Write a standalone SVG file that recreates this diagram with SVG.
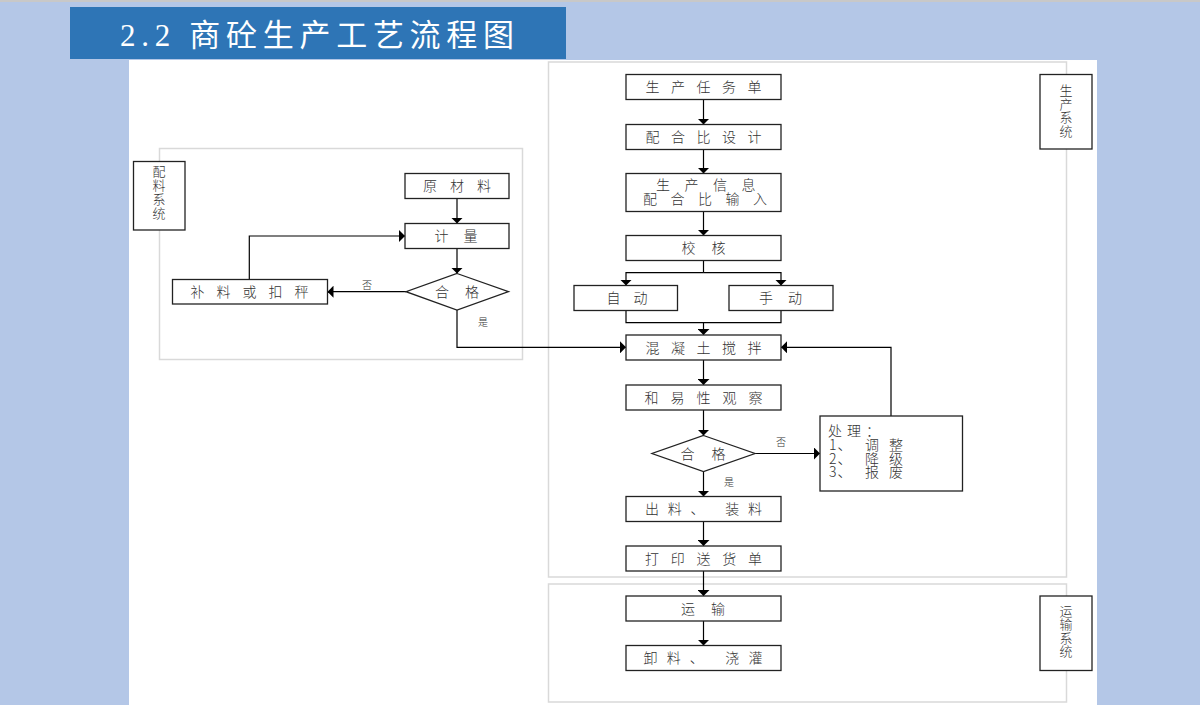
<svg xmlns="http://www.w3.org/2000/svg" width="1200" height="705" viewBox="0 0 1200 705">
<defs>
<marker id="ah" markerUnits="userSpaceOnUse" viewBox="0 0 6 12" markerWidth="6" markerHeight="12" refX="6" refY="6" orient="auto">
<path d="M0,0 L6,6 L0,12 z" fill="#000"/>
</marker>
<style>
.panel{fill:none;stroke:#D9D9D9;stroke-width:1.5}
.box{fill:#fff;stroke:#222;stroke-width:1.3}
.ln{fill:none;stroke:#000;stroke-width:1.2}
.ar{fill:none;stroke:#000;stroke-width:1.2;marker-end:url(#ah)}
.t{font-family:"Noto Sans CJK SC","Liberation Sans",sans-serif;font-size:14px;font-weight:300;fill:#333;text-anchor:middle}
.tl{font-family:"Noto Sans CJK SC","Liberation Sans",sans-serif;font-size:14px;font-weight:300;fill:#333}
.v{font-family:"Noto Sans CJK SC","Liberation Sans",sans-serif;font-size:13px;font-weight:300;fill:#333;writing-mode:vertical-rl;text-anchor:start}
.s{font-family:"Noto Sans CJK SC","Liberation Sans",sans-serif;font-size:10px;font-weight:300;fill:#333;text-anchor:middle}
</style>
</defs>
<rect x="0" y="0" width="1200" height="705" fill="#B4C7E7"/>
<rect x="0" y="0" width="1200" height="2" fill="#C8C8C8"/>
<rect x="129" y="60" width="968" height="645" fill="#fff"/>
<g id="title">
<rect x="70" y="7" width="496" height="52" fill="#2E75B6"/>
<text x="120" y="46" font-family="'Liberation Serif','Noto Sans CJK SC',serif" font-size="31" fill="#fff" textLength="394" lengthAdjust="spacing">2.2 商砼生产工艺流程图</text>
</g>
<g id="panels">
<rect class="panel" x="159.5" y="148.5" width="363" height="211"/>
<rect class="panel" x="548.5" y="62" width="518" height="515"/>
<rect class="panel" x="548.5" y="584" width="518" height="118"/>
</g>
<g id="connectors">
<line class="ar" x1="703.5" y1="99.5" x2="703.5" y2="124.5"/>
<line class="ar" x1="703.5" y1="149.5" x2="703.5" y2="173.5"/>
<line class="ar" x1="703.5" y1="211.5" x2="703.5" y2="235.5"/>
<line class="ln" x1="703.5" y1="260.5" x2="703.5" y2="272.7"/>
<polyline class="ar" points="703.5,272.7 626,272.7 626,285.5"/>
<polyline class="ar" points="703.5,272.7 781,272.7 781,285.5"/>
<polyline class="ln" points="626,310.5 626,322.7 781,322.7 781,310.5"/>
<line class="ar" x1="703.5" y1="322.7" x2="703.5" y2="335"/>
<line class="ar" x1="703.5" y1="360" x2="703.5" y2="385"/>
<line class="ar" x1="703.5" y1="410" x2="703.5" y2="435.5"/>
<line class="ar" x1="703.5" y1="471.5" x2="703.5" y2="496.5"/>
<line class="ar" x1="755" y1="453.5" x2="820" y2="453.5"/>
<polyline class="ar" points="891,416 891,347.3 781,347.3"/>
<line class="ar" x1="703.5" y1="521.5" x2="703.5" y2="546"/>
<line class="ar" x1="703.5" y1="571" x2="703.5" y2="596"/>
<line class="ar" x1="703.5" y1="621" x2="703.5" y2="645.5"/>
<line class="ar" x1="457" y1="198.5" x2="457" y2="223.5"/>
<line class="ar" x1="457" y1="248.5" x2="457" y2="273.5"/>
<line class="ar" x1="406" y1="291.7" x2="327.5" y2="291.7"/>
<polyline class="ar" points="249.3,279.5 249.3,236 405,236"/>
<polyline class="ar" points="457,310 457,347.3 626,347.3"/>
<text class="s" x="367" y="289">否</text>
<text class="s" x="483" y="326">是</text>
<text class="s" x="781" y="446">否</text>
<text class="s" x="729" y="486">是</text>
</g>
<g id="n-rwd"><rect class="box" x="626" y="74.5" width="155" height="25"/><text class="t" x="703.5" y="92" textLength="116" lengthAdjust="spacing">生产任务单</text></g>
<g id="n-phb"><rect class="box" x="626" y="124.5" width="155" height="25"/><text class="t" x="703.5" y="142" textLength="116" lengthAdjust="spacing">配合比设计</text></g>
<g id="n-xx"><rect class="box" x="626" y="173.5" width="155" height="38"/><text class="tl"><tspan x="656" y="190" letter-spacing="14.5">生产信息</tspan><tspan x="643" y="203.5" letter-spacing="13.5">配合比输入</tspan></text></g>
<g id="n-jh"><rect class="box" x="626" y="235.5" width="155" height="25"/><text class="t" x="703.5" y="253" textLength="44" lengthAdjust="spacing">校核</text></g>
<g id="n-zd"><rect class="box" x="574" y="285.5" width="103.5" height="25"/><text class="t" x="627" y="303" textLength="41" lengthAdjust="spacing">自动</text></g>
<g id="n-sd"><rect class="box" x="729" y="285.5" width="104" height="25"/><text class="t" x="780.5" y="303" textLength="43" lengthAdjust="spacing">手动</text></g>
<g id="n-jb"><rect class="box" x="626" y="335" width="155" height="25"/><text class="t" x="703.5" y="352.5" textLength="116" lengthAdjust="spacing">混凝土搅拌</text></g>
<g id="n-hyx"><rect class="box" x="626" y="385" width="155" height="25"/><text class="t" x="703.5" y="402.5" textLength="118" lengthAdjust="spacing">和易性观察</text></g>
<g id="n-hg2"><polygon class="box" points="703.5,435.5 755,453.5 703.5,471.5 652,453.5"/><text class="t" x="703" y="458.5" textLength="45" lengthAdjust="spacing">合格</text></g>
<g id="n-cl"><rect class="box" x="820" y="416" width="142.5" height="75"/>
<text class="tl"><tspan x="828" y="436" letter-spacing="5">处理：</tspan><tspan x="829" y="449.5" letter-spacing="1">1、</tspan><tspan x="865" y="449.5" letter-spacing="10">调整</tspan><tspan x="829" y="463.5" letter-spacing="1">2、</tspan><tspan x="865" y="463.5" letter-spacing="10">降级</tspan><tspan x="829" y="477" letter-spacing="1">3、</tspan><tspan x="865" y="477" letter-spacing="10">报废</tspan></text></g>
<g id="n-cz"><rect class="box" x="626" y="496.5" width="155" height="25"/><text class="t" x="703.5" y="514" textLength="117" lengthAdjust="spacing">出料、 装料</text></g>
<g id="n-dy"><rect class="box" x="626" y="546" width="155" height="25"/><text class="t" x="703.5" y="563.5" textLength="117" lengthAdjust="spacing">打印送货单</text></g>
<g id="n-ys"><rect class="box" x="626" y="596" width="155" height="25"/><text class="t" x="703" y="613.5" textLength="44" lengthAdjust="spacing">运输</text></g>
<g id="n-xl"><rect class="box" x="626" y="645.5" width="155" height="25"/><text class="t" x="703" y="663" textLength="119" lengthAdjust="spacing">卸料、 浇灌</text></g>
<g id="n-scxt"><rect class="box" x="1040" y="74.5" width="52" height="74.5"/>
<text class="v" x="1066" y="84" letter-spacing="0.5">生产系统</text></g>
<g id="n-ysxt"><rect class="box" x="1040" y="596" width="52" height="74.5"/>
<text class="v" x="1066" y="604.5" letter-spacing="0.5">运输系统</text></g>
<g id="n-plxt"><rect class="box" x="133.5" y="161.5" width="51.5" height="68.5"/>
<text class="v" x="159" y="165" font-size="14" letter-spacing="1">配料系统</text></g>
<g id="n-ycl"><rect class="box" x="405" y="173.5" width="104" height="25"/><text class="t" x="457" y="191" textLength="68" lengthAdjust="spacing">原材料</text></g>
<g id="n-jl"><rect class="box" x="405" y="223.5" width="104" height="25"/><text class="t" x="456" y="241" textLength="43" lengthAdjust="spacing">计量</text></g>
<g id="n-hg1"><polygon class="box" points="457,273.5 508.5,291.7 457,310 406,291.7"/><text class="t" x="457" y="296.5" textLength="44" lengthAdjust="spacing">合格</text></g>
<g id="n-bl"><rect class="box" x="172.5" y="279.5" width="155" height="24.5"/><text class="t" x="249.5" y="296.5" textLength="118" lengthAdjust="spacing">补料或扣秤</text></g>
</svg>
